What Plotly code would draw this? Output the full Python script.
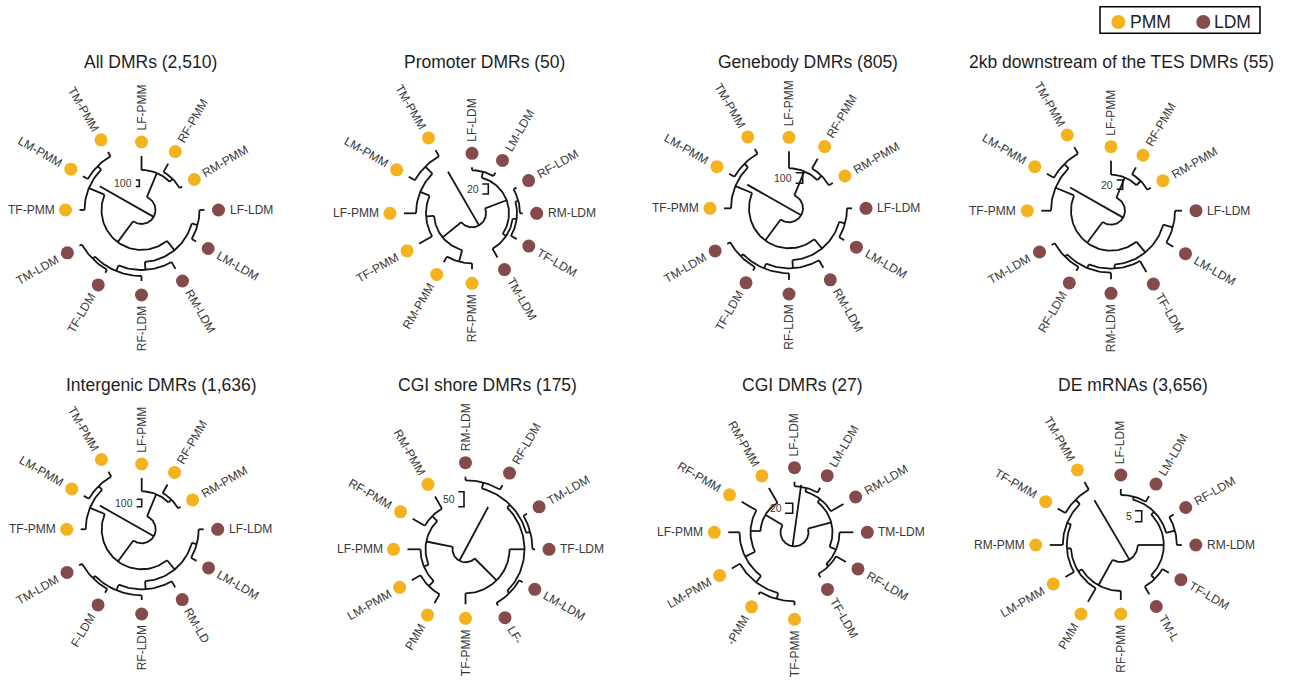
import math
import plotly.graph_objects as go

# ---------------------------------------------------------------------------
# Data: eight circular dendrograms (12 samples each).
# Trees are nested lists: [node_height, child, child]; an int is a leaf index.
# Heights are in plot units (distance from the centre of each fan).
# ---------------------------------------------------------------------------
titles = ["All DMRs (2,510)", "Promoter DMRs (50)", "Genebody DMRs (805)",
          "2kb downstream of the TES DMRs (55)", "Intergenic DMRs (1,636)",
          "CGI shore DMRs (175)", "CGI DMRs (27)", "DE mRNAs (3,656)"]
scale_values = [100, 20, 100, 20, 100, 50, 20, 5]

all_leaves = ["TM-PMM", "LM-PMM", "TF-PMM", "TM-LDM", "TF-LDM", "RF-LDM",
              "RM-LDM", "LM-LDM", "LF-LDM", "RM-PMM", "RF-PMM", "LF-PMM"]
all_tips = [67, 67.6, 62, 71.6, 72.5, 71, 68, 63, 63, 47, 53.5, 54]
all_tree = [14, [40, [57, [62, 0, 1], 2],
                 [52, [60, [66, [69, 3, 4], 5], 6], [58, 7, 8]]],
            [40, [44, 9, 10], 11]]

prom_leaves = ["TM-PMM", "LM-PMM", "LF-PMM", "TF-PMM", "RM-PMM", "RF-PMM",
               "TM-LDM", "TF-LDM", "RM-LDM", "RF-LDM", "LM-LDM", "LF-LDM"]
prom_tips = [73, 73, 68, 61, 56.6, 56, 51, 51.6, 50.7, 51.4, 47, 46]
prom_tree = [14, [38, [46, [56, [66, 0, 1], 2], 3], [50, 4, 5]],
             [37, [41, 6, [45, 7, [48, 8, 9]]], [43, 10, 11]]]

gene_leaves = list(all_leaves)
gene_tips = [68.4, 69.2, 65, 71.3, 72, 71.7, 68.6, 63.8, 63, 50.6, 57.3, 57]
gene_tree = [14, [40, [58, [63, 0, 1], 2],
                  [52, [60, [65, [68, 3, 4], 5], 6], [58, 7, 8]]],
             [40, [46, 9, 10], 11]]

tes_leaves = ["TM-PMM", "LM-PMM", "TF-PMM", "TM-LDM", "RF-LDM", "RM-LDM",
              "TF-LDM", "LM-LDM", "LF-LDM", "RM-PMM", "RF-PMM", "LF-PMM"]
tes_tips = [73.4, 74, 69.7, 68.6, 69.4, 68.6, 70.7, 72, 71, 46, 50, 50]
tes_tree = [14, [40, [60, [66, 0, 1], 2],
                 [54, [58, [62, [65, 3, 4], 5], 6], [64, 7, 8]]],
            [36, [42, 9, 10], 11]]

inter_leaves = list(all_leaves)
inter_shown = ["TM-PMM", "LM-PMM", "TF-PMM", "TM-LDM", "F-LDM", "RF-LDM",
               "RM-LD", "LM-LDM", "LF-LDM", "RM-PMM", "RF-PMM", "LF-PMM"]
inter_tips = [66.6, 66.8, 61, 72.2, 73.3, 70.7, 67.1, 63.2, 62, 44.8, 51.7, 51.3]
inter_tree = [14, [40, [56, [61, 0, 1], 2],
                   [52, [60, [66, [69, 3, 4], 5], 6], [57, 7, 8]]],
              [38, [42, 9, 10], 11]]

shore_leaves = ["RM-PMM", "RF-PMM", "LF-PMM", "LM-PMM", "TM-PMM", "TF-PMM",
                "LF-LDM", "LM-LDM", "TF-LDM", "TM-LDM", "RF-LDM", "RM-LDM"]
shore_shown = ["RM-PMM", "RF-PMM", "LF-PMM", "LM-PMM", "PMM", "TF-PMM",
               "LF-", "LM-LDM", "TF-LDM", "TM-LDM", "RF-LDM", "RM-LDM"]
shore_tips = [61, 61, 58, 62, 62, 55, 65, 66, 69.5, 71, 74, 72.6]
shore_tree = [13, [40, [47, 0, 1], [45, 2, [52, 3, 4]]],
              [44, 5, [59, [62, 6, 7], [63, [67, 8, 9], [69, 10, 11]]]]]

cgi_leaves = ["RM-PMM", "RF-PMM", "LF-PMM", "LM-PMM", "TM-PMM", "TF-PMM",
              "TF-LDM", "RF-LDM", "TM-LDM", "RM-LDM", "LM-LDM", "LF-LDM"]
cgi_shown = ["RM-PMM", "RF-PMM", "LF-PMM", "LM-PMM", "-PMM", "TF-PMM",
             "TF-LDM", "RF-LDM", "TM-LDM", "RM-LDM", "LM-LDM", "LF-LDM"]
cgi_tips = [51.2, 61, 66.2, 72.4, 72, 73, 52, 59.3, 58.8, 56.6, 51.4, 50.6]
cgi_tree = [14, [34, 0, [44, 1, [55, 2, [63, 3, [69, 4, 5]]]]],
            [38, [45, [48, 6, 7], 8], [42, 9, [46, 10, 11]]]]

mrna_leaves = ["TM-PMM", "TF-PMM", "RM-PMM", "LM-PMM", "LF-PMM", "RF-PMM",
               "TM-LDM", "TF-LDM", "RM-LDM", "RF-LDM", "LM-LDM", "LF-LDM"]
mrna_shown = ["TM-PMM", "TF-PMM", "RM-PMM", "LM-PMM", "PMM", "RF-PMM",
              "TM-L", "TF-LDM", "RM-LDM", "RF-LDM", "LM-LDM", "LF-LDM"]
mrna_tips = [72.7, 72.7, 71, 64, 65.7, 55, 57, 55.4, 61, 61, 56.4, 56]
mrna_tree = [17, [46, [50, [54, [58, [64, 0, 1], 2], 3], 4], 5],
             [43, [48, 6, 7], [47, [56, 8, 9], [50, 10, 11]]]]

root_chord = [48, 48, 48, 47, 48, 48, 48, 52]

panels = [
    dict(leaves=all_leaves, shown=all_leaves, tips=all_tips, tree=all_tree),
    dict(leaves=prom_leaves, shown=prom_leaves, tips=prom_tips, tree=prom_tree),
    dict(leaves=gene_leaves, shown=gene_leaves, tips=gene_tips, tree=gene_tree),
    dict(leaves=tes_leaves, shown=tes_leaves, tips=tes_tips, tree=tes_tree),
    dict(leaves=inter_leaves, shown=inter_shown, tips=inter_tips, tree=inter_tree),
    dict(leaves=shore_leaves, shown=shore_shown, tips=shore_tips, tree=shore_tree),
    dict(leaves=cgi_leaves, shown=cgi_shown, tips=cgi_tips, tree=cgi_tree),
    dict(leaves=mrna_leaves, shown=mrna_shown, tips=mrna_tips, tree=mrna_tree),
]

# ---------------------------------------------------------------------------
# Layout / style
# ---------------------------------------------------------------------------
W, H = 1289, 683
centers = [(141.5, 210), (472, 213.3), (789, 208.3), (1111, 210.7),
           (141.7, 529.3), (465.5, 549.3), (794.5, 532.3), (1120.8, 545)]
title_pos = [(150.5, 62), (484, 62), (807.5, 62), (1121.7, 62),
             (161.7, 385), (487, 385), (802.5, 385), (1132.5, 385)]
# scale bracket: dx, dy (top) relative to centre, bracket height, tick width
scale_geom = [(-2.2, -30, 6.5, 3.5), (16.3, -29.3, 10, 6), (13.7, -35.6, 10.6, 7),
              (11.7, -30.7, 9.3, 6), (0, -30, 7.4, 5), (-1.5, -57.6, 15, 5.7),
              (-1.8, -29, 10, 7.7), (20.9, -34.3, 11, 6.7)]

LEAF_START = 120.0
LEAF_STEP = 30.0
DOT_GAP = 14
LABEL_GAP = 11
PMM_COLOR = "#F4B21E"
LDM_COLOR = "#854A4A"
LINE_COLOR = "#151515"
TEXT_COLOR = "#383838"
FONT = "Liberation Sans, Arial, sans-serif"
LABEL_SIZE = 12

ARIAL = {'A': 667, 'B': 667, 'C': 722, 'D': 722, 'E': 667, 'F': 611, 'G': 778,
         'H': 722, 'I': 278, 'L': 556, 'M': 833, 'N': 722, 'O': 778, 'P': 667,
         'R': 722, 'S': 667, 'T': 611, '-': 333}


def text_width(s, size):
    return sum(ARIAL.get(ch, 556) for ch in s) * size / 1000.0


def pt(cx, cy, r, deg):
    a = math.radians(deg)
    return cx + r * math.cos(a), cy - r * math.sin(a)


fig = go.Figure()
annotations = []
shapes = []

for k, p in enumerate(panels):
    cx, cy = centers[k]
    xs, ys = [], []

    def seg(r0, a0, r1, a1):
        x0, y0 = pt(cx, cy, r0, a0)
        x1, y1 = pt(cx, cy, r1, a1)
        xs.extend([x0, x1, None])
        ys.extend([y0, y1, None])

    def arc(r, a0, a1):
        n = max(2, int(abs(a1 - a0) / 2) + 1)
        for i in range(n + 1):
            x, y = pt(cx, cy, r, a0 + (a1 - a0) * i / n)
            xs.append(x)
            ys.append(y)
        xs.append(None)
        ys.append(None)

    def walk(node):
        if isinstance(node, int):
            return LEAF_START + LEAF_STEP * node, p["tips"][node]
        h = node[0]
        kids = [walk(c) for c in node[1:]]
        angs = [a for a, _ in kids]
        arc(h, min(angs), max(angs))
        for a, r in kids:
            seg(h, a, r, a)
        return sum(angs) / len(angs), h

    root_ang, root_h = walk(p["tree"])
    seg(root_h, root_ang, root_chord[k], root_ang + 180)

    fig.add_trace(go.Scatter(x=xs, y=ys, mode="lines",
                             line=dict(color=LINE_COLOR, width=1.8),
                             hoverinfo="skip", showlegend=False))

    # tip dots and radial labels
    for grp, col in (("PMM", PMM_COLOR), ("LDM", LDM_COLOR)):
        dx_, dy_ = [], []
        for i, name in enumerate(p["leaves"]):
            if name.endswith(grp):
                x, y = pt(cx, cy, p["tips"][i] + DOT_GAP, LEAF_START + LEAF_STEP * i)
                dx_.append(x)
                dy_.append(y)
        fig.add_trace(go.Scatter(x=dx_, y=dy_, mode="markers",
                                 marker=dict(size=13, color=col, line=dict(width=0)),
                                 hoverinfo="skip", showlegend=False))

    for i, label in enumerate(p["shown"]):
        theta = (LEAF_START + LEAF_STEP * i) % 360
        r_dot = p["tips"][i] + DOT_GAP
        w = text_width(label, LABEL_SIZE)
        rc = r_dot + LABEL_GAP + w / 2
        x, y = pt(cx, cy, rc, theta)
        if 90 < theta <= 270:
            ang = 180 - theta
        else:
            ang = -(theta if theta <= 90 else theta - 360)
        annotations.append(dict(x=x, y=y, text=label, showarrow=False,
                                textangle=ang, xanchor="center", yanchor="middle",
                                font=dict(family=FONT, size=LABEL_SIZE, color=TEXT_COLOR)))

    # title
    tx, ty = title_pos[k]
    annotations.append(dict(x=tx, y=ty, text=titles[k], showarrow=False,
                            xanchor="center", yanchor="middle",
                            font=dict(family=FONT, size=17.5, color="#1e1e1e")))

    # scale bracket
    sdx, sdy, sh, stw = scale_geom[k]
    bx, top = cx + sdx, cy + sdy
    bot = top + sh
    fig.add_trace(go.Scatter(x=[bx - stw, bx, bx, bx - stw], y=[top, top, bot, bot],
                             mode="lines", line=dict(color=LINE_COLOR, width=1.6),
                             hoverinfo="skip", showlegend=False))
    annotations.append(dict(x=bx - stw - 1.5, y=(top + bot) / 2, text=str(scale_values[k]),
                            showarrow=False, xanchor="right", yanchor="middle",
                            font=dict(family=FONT, size=10.5, color=TEXT_COLOR)))

# legend box
shapes.append(dict(type="rect", x0=1100, y0=6.7, x1=1260, y1=33.3,
                   line=dict(color="black", width=1.5), fillcolor="white", layer="below"))
fig.add_trace(go.Scatter(x=[1118.3, 1203.3], y=[22, 22], mode="markers",
                         marker=dict(size=14, color=[PMM_COLOR, LDM_COLOR]),
                         hoverinfo="skip", showlegend=False))
annotations.append(dict(x=1128, y=21.5, text="PMM", showarrow=False, xanchor="left",
                        yanchor="middle", font=dict(family=FONT, size=17.5, color="#1e1e1e")))
annotations.append(dict(x=1211.7, y=21.5, text="LDM", showarrow=False, xanchor="left",
                        yanchor="middle", font=dict(family=FONT, size=17.5, color="#1e1e1e")))

fig.update_layout(
    width=W, height=H,
    margin=dict(l=0, r=0, t=0, b=0),
    paper_bgcolor="white", plot_bgcolor="white",
    xaxis=dict(range=[0, W], visible=False, fixedrange=True),
    yaxis=dict(range=[H, 0], visible=False, fixedrange=True),
    showlegend=False,
    annotations=annotations,
    shapes=shapes,
)

fig.write_html("out.html")
